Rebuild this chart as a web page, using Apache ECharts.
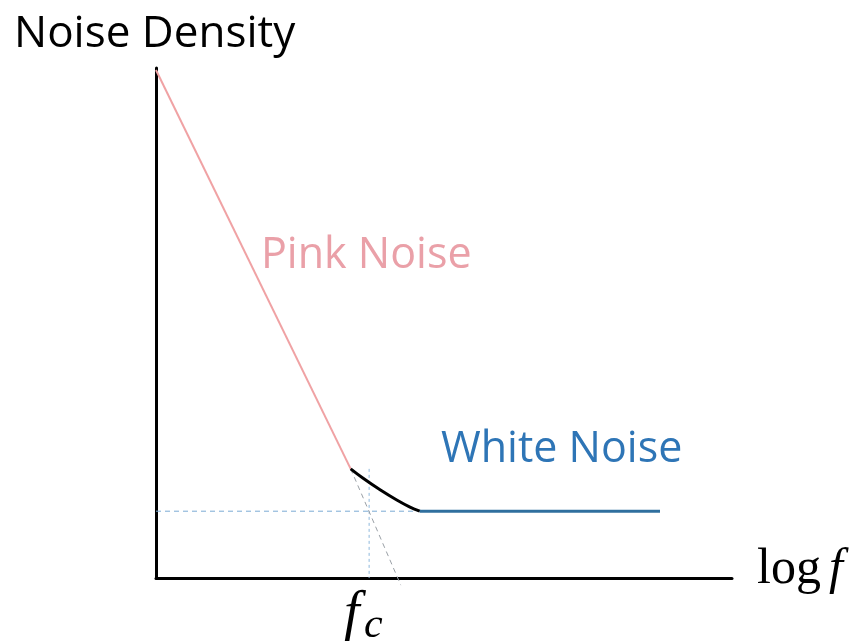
<!DOCTYPE html>
<html>
<head>
<meta charset="utf-8">
<script src="https://cdn.jsdelivr.net/npm/echarts@6/dist/echarts.min.js"></script>
<style>
  html, body { margin: 0; padding: 0; background: #ffffff; }
  #chart { width: 859px; height: 641px; }
</style>
</head>
<body>
<div id="chart"></div>
<script>
// Schematic noise spectrum: 1/f (pink) region falling into a flat white-noise floor.
// Axes run 0..100 in arbitrary units (x = log f, y = noise density).
const pinkNoise = [[0, 99.6], [33.8, 21.4]];
const transition = [[33.8, 21.4], [35.9, 19.6], [38.9, 17.3], [41.8, 15.3], [44.1, 13.9], [45.8, 13.1]];
const whiteNoise = [[45.8, 13.1], [87.5, 13.1]];
const whiteLevel = 13.1;
const cornerFreq = 37.0;
const pinkExtension = [[33.8, 21.4], [42.5, -1.4]];

const floorGuide = [[0, whiteLevel], [whiteNoise[0][0], whiteLevel]];
const cornerGuide = [[cornerFreq, pinkNoise[1][1]], [cornerFreq, 0]];

const chart = echarts.init(document.getElementById('chart'));

const textFont = '"Open Sans", "Noto Sans", sans-serif';
const serifFont = '"Liberation Serif", "DejaVu Serif", serif';

chart.setOption({
  animation: false,
  backgroundColor: '#ffffff',
  grid: { left: 156, top: 68, width: 576, height: 510 },
  xAxis: {
    type: 'value', min: 0, max: 100,
    axisLine: { show: true, lineStyle: { color: '#000000', width: 3 } },
    axisTick: { show: false }, axisLabel: { show: false }, splitLine: { show: false }
  },
  yAxis: {
    type: 'value', min: 0, max: 100,
    axisLine: { show: true, lineStyle: { color: '#000000', width: 3 } },
    axisTick: { show: false }, axisLabel: { show: false }, splitLine: { show: false }
  },
  series: [
    {
      name: 'Floor guide', type: 'line', data: floorGuide, symbol: 'none', clip: false, z: 1,
      lineStyle: { color: '#7aaad4', width: 1, type: [5, 4] }
    },
    {
      name: 'Corner guide', type: 'line', data: cornerGuide, symbol: 'none', clip: false, z: 1,
      lineStyle: { color: '#8fb8dc', width: 1, type: [3, 3] }
    },
    {
      name: 'Pink extension', type: 'line', data: pinkExtension, symbol: 'none', clip: false, z: 1,
      lineStyle: { color: '#9aa0a6', width: 1, type: [5, 4] }
    },
    {
      name: 'Pink Noise', type: 'line', data: pinkNoise, symbol: 'none', z: 3,
      lineStyle: { color: '#f0a2a4', width: 2 }
    },
    {
      name: 'Transition', type: 'line', data: transition, symbol: 'none', smooth: 0.4, z: 3,
      lineStyle: { color: '#000000', width: 3 }
    },
    {
      name: 'White Noise', type: 'line', data: whiteNoise, symbol: 'none', z: 3,
      lineStyle: { color: '#2f6f9e', width: 3 }
    }
  ],
  graphic: [
    {
      type: 'text', left: 14, top: 12,
      style: { text: 'Noise Density', font: '44px ' + textFont, fill: '#000000' }
    },
    {
      type: 'text', left: 261, top: 234,
      style: { text: 'Pink Noise', font: '43px ' + textFont, fill: '#eaa0a8' }
    },
    {
      type: 'text', left: 441, top: 428,
      style: { text: 'White Noise', font: '43px ' + textFont, fill: '#2e75b6' }
    },
    {
      type: 'text', left: 757, top: 545,
      style: { text: 'log', font: '50px ' + serifFont, fill: '#000000' }
    },
    {
      type: 'text', left: 829, top: 545,
      style: { text: 'f', font: 'italic 50px ' + serifFont, fill: '#000000' }
    },
    {
      type: 'text', left: 344, top: 587,
      style: { text: 'f', font: 'italic 56px ' + serifFont, fill: '#000000' }
    },
    {
      type: 'text', left: 364, top: 605,
      style: { text: 'c', font: 'italic 42px ' + serifFont, fill: '#000000' }
    }
  ]
});
</script>
</body>
</html>
